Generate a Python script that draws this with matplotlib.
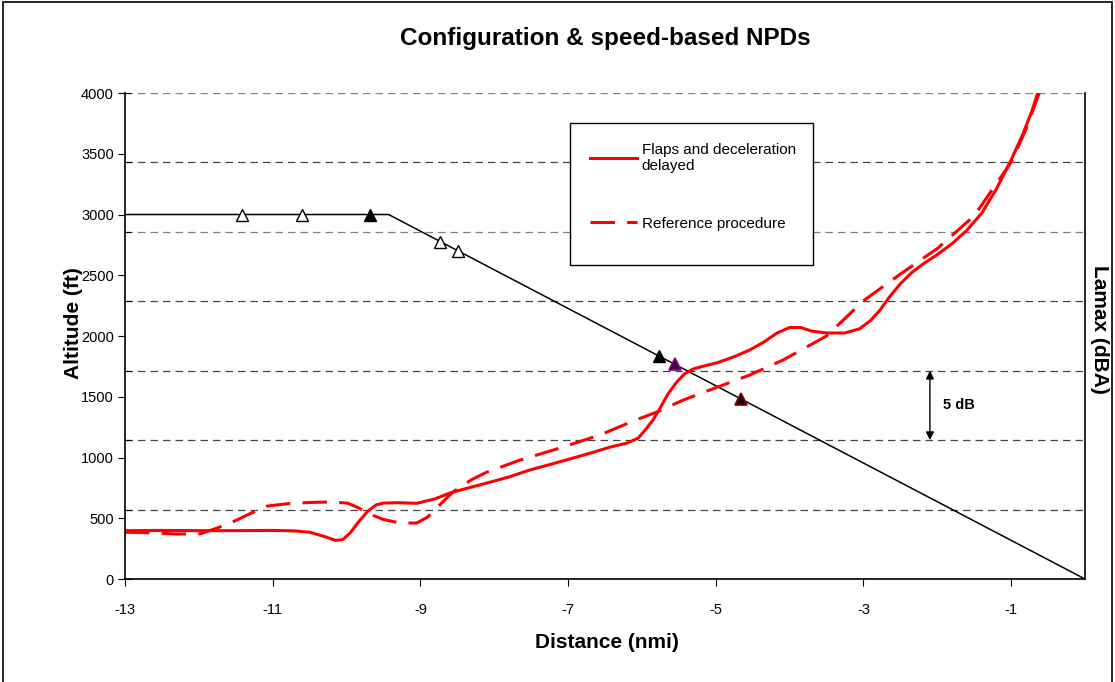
import matplotlib
matplotlib.use('Agg')
import matplotlib.pyplot as plt
from matplotlib.patches import Rectangle

plt.rcParams['font.family'] = ['Liberation Sans', 'DejaVu Sans']
plt.rcParams['axes.unicode_minus'] = False

# glide path (altitude profile)
path_x = [-13.0, -9.43, 0.0]
path_alt = [3000, 3000, 0]

# configuration change markers on the glide path
open_x = [-11.42, -10.60, -8.73, -8.49]
open_alt = [3000, 3000, 2775, 2702]
filled_x = [-9.68, -5.77]
filled_alt = [3000, 1836]
purple_x = [-5.55]
purple_alt = [1766]
darkred_x = [-4.66]
darkred_alt = [1483]

# noise curves (plotted on the altitude scale, as in the original)
delayed_x = [-13.0, -12.5, -12.0, -11.5, -11.0, -10.7, -10.5, -10.3, -10.15, -10.05,
             -9.95, -9.85, -9.72, -9.6, -9.5, -9.3, -9.05, -8.8, -8.6, -8.35,
             -8.1, -7.8, -7.52, -7.2, -6.93, -6.65, -6.43, -6.2, -6.05, -5.95,
             -5.85, -5.76, -5.65, -5.53, -5.42, -5.3, -5.15, -4.98, -4.75, -4.54,
             -4.35, -4.17, -4.0, -3.85, -3.7, -3.5, -3.25, -3.05, -2.9, -2.78,
             -2.65, -2.5, -2.35, -2.2, -2.0, -1.8, -1.6, -1.4, -1.2, -1.0,
             -0.85, -0.72, -0.64]
delayed_alt = [398, 400, 398, 398, 400, 396, 385, 350, 318, 325,
               380, 460, 554, 610, 625, 628, 623, 660, 708, 750,
               790, 840, 897, 950, 996, 1045, 1086, 1119, 1160, 1230,
               1309, 1400, 1520, 1620, 1690, 1730, 1755, 1780, 1830, 1885,
               1950, 2025, 2070, 2070, 2040, 2025, 2025, 2060, 2130, 2210,
               2320, 2430, 2520, 2590, 2670, 2760, 2870, 3010, 3210, 3450,
               3650, 3850, 4000]

reference_x = [-13.0, -12.6, -12.3, -11.98, -11.75, -11.54, -11.3, -11.08, -10.8, -10.5,
               -10.22, -9.99, -9.85, -9.72, -9.5, -9.28, -9.05, -8.9, -8.78, -8.56,
               -8.3, -8.1, -7.65, -7.11, -6.57, -6.12, -5.8, -5.44, -5.08, -4.54,
               -4.09, -3.5, -3.0, -2.5, -2.0, -1.5, -1.0, -0.8, -0.62]
reference_alt = [385, 380, 370, 372, 420, 470, 540, 600, 620, 630,
                 634, 625, 590, 543, 490, 461, 461, 510, 584, 716,
                 820, 880, 979, 1078, 1185, 1300, 1374, 1473, 1556, 1679,
                 1802, 2000, 2290, 2510, 2720, 2990, 3430, 3700, 4000]

x_ticks = [-13, -11, -9, -7, -5, -3, -1]
y_ticks = [0, 500, 1000, 1500, 2000, 2500, 3000, 3500, 4000]

fig = plt.figure(figsize=(11.15, 6.82), dpi=100)
ax = fig.add_axes([0.1121, 0.151, 0.861, 0.7126])
ax2 = ax.twinx()

# secondary axis: Lamax in 5 dB steps, only the grid is shown
ax2.set_ylim(0, 35)
ax2.set_yticks([0, 5, 10, 15, 20, 25, 30, 35])
ax2.yaxis.tick_left()
ax2.tick_params(axis='y', direction='in', length=4, labelleft=False, labelright=False)
ax2.yaxis.grid(True, linestyle=(0, (6, 4)), linewidth=0.9)
grid_cols = ['#444444', '#444444', '#444444', '#444444', '#444444', '#808080', '#444444', '#808080', '#808080']
for gl, c in zip(ax2.yaxis.get_gridlines(), grid_cols):
    gl.set_color(c)
for s in ['top', 'right', 'left', 'bottom']:
    ax2.spines[s].set_visible(False)
ax2.set_ylabel('Lamax (dBA)', fontsize=15, fontweight='bold', rotation=270, va='center', ha='center')
ax2.yaxis.set_label_position('right')
ax2.yaxis.set_label_coords(1.025, 0.514)

# 5 dB arrow
ax2.annotate('', xy=(-2.1, 15), xytext=(-2.1, 10),
             arrowprops=dict(arrowstyle='<|-|>', color='black', lw=1, mutation_scale=12, shrinkA=0, shrinkB=0))
ax2.text(-1.92, 12.5, '5 dB', fontsize=10.5, fontweight='bold', va='center', ha='left')

ax.set_zorder(ax2.get_zorder() + 1)
ax.patch.set_visible(False)

ax.plot(path_x, path_alt, color='black', lw=1.1)
ax.plot(delayed_x, delayed_alt, color='red', lw=2.2, label='Flaps and deceleration\ndelayed')
ax.plot(reference_x, reference_alt, color='red', lw=2.2, linestyle=(0, (8, 4)), label='Reference procedure')

ax.plot(open_x, open_alt, linestyle='none', marker='^', ms=9, mfc='white', mec='black', mew=1)
ax.plot(filled_x, filled_alt, linestyle='none', marker='^', ms=9, mfc='black', mec='black', mew=1)
ax.plot(purple_x, purple_alt, linestyle='none', marker='^', ms=9, mfc='#3a003a', mec='#8b008b', mew=1.2)
ax.plot(darkred_x, darkred_alt, linestyle='none', marker='^', ms=9, mfc='#1a0000', mec='#7a0000', mew=1.2)

ax.set_xlim(-13, 0)
ax.set_ylim(0, 4000)
ax2.set_xlim(-13, 0)
ax.set_xticks(x_ticks)
ax.set_yticks(y_ticks)
ax.tick_params(axis='x', direction='out', length=5, labelsize=10.5, pad=12)
ax.tick_params(axis='y', direction='out', length=5, labelsize=10.5, pad=3)
ax.spines['top'].set_visible(False)
for s in ['left', 'bottom', 'right']:
    ax.spines[s].set_color('black')
    ax.spines[s].set_linewidth(1.2)

ax.set_xlabel('Distance (nmi)', fontsize=15, fontweight='bold')
ax.xaxis.set_label_coords(0.502, -0.111)
ax.set_ylabel('Altitude (ft)', fontsize=15, fontweight='bold', va='center', ha='center')
ax.yaxis.set_label_coords(-0.054, 0.527)

# legend box drawn as a fixed frame, entries placed inside it
ax.add_patch(Rectangle((0.4635, 0.646), 0.2532, 0.292, transform=ax.transAxes,
                       fill=True, facecolor='white', edgecolor='black', lw=1.0, zorder=4))
leg = ax.legend(loc='upper left', bbox_to_anchor=(0.4635, 0.938), fontsize=11,
                frameon=False, borderpad=1.3, labelspacing=2.85, handlelength=3.1,
                handletextpad=0.3, borderaxespad=0)
leg.set_zorder(5)

fig.text(0.543, 0.944, 'Configuration & speed-based NPDs', fontsize=17.5, fontweight='bold',
         ha='center', va='center')

fig.patches.append(Rectangle((3 / 1115, -0.01), 1109 / 1115, 1 - 2 / 682 + 0.01,
                             transform=fig.transFigure, fill=False, edgecolor='black', lw=1.2))

fig.savefig('out.png', dpi=100)
